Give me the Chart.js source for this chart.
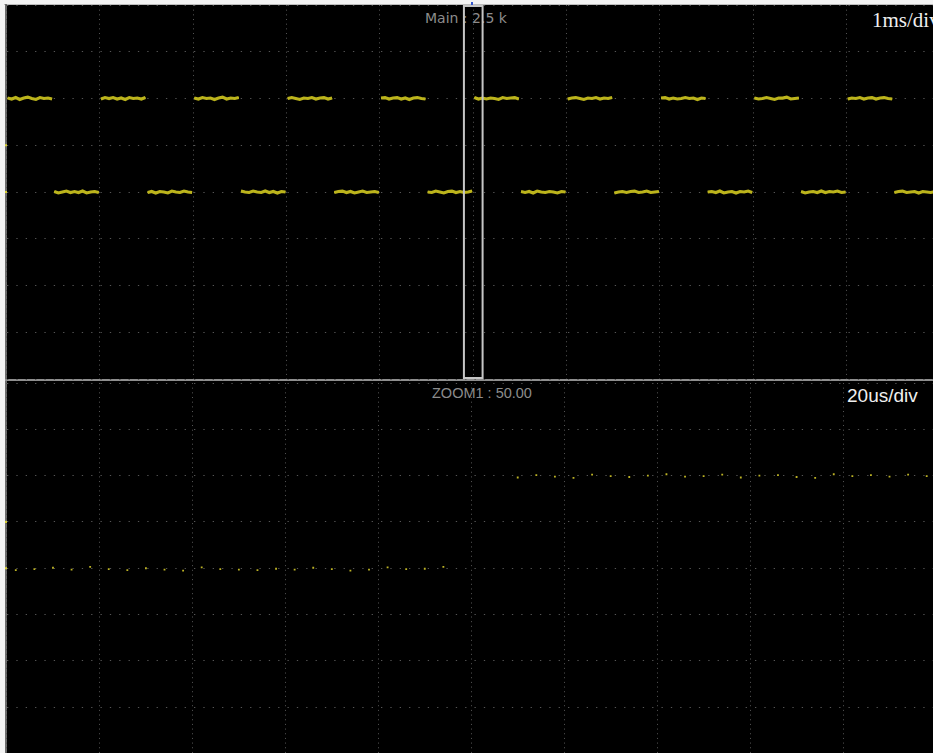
<!DOCTYPE html>
<html><head><meta charset="utf-8">
<script src="https://cdn.jsdelivr.net/npm/chart.js@4.4.0/dist/chart.umd.min.js"></script>
<style>
html,body{margin:0;padding:0;width:933px;height:753px;overflow:hidden;background:#f3f3f3;}
#bg{position:absolute;left:6px;top:5px;width:940px;height:760px;background:#000;}
.line{position:absolute;}
.lbl{position:absolute;white-space:nowrap;}
.wrap{position:absolute;left:0;width:940px;height:380px;}
</style></head>
<body>
<div id="bg"></div>
<div class="line" style="left:4px;top:4px;width:940px;height:1px;background:#bdbdbd"></div>
<div class="line" style="left:5px;top:4px;width:2px;height:760px;background:#6e6e6e"></div>
<div class="line" style="left:5px;top:379px;width:940px;height:2px;background:#8e8e8e"></div>
<div class="line" style="left:471px;top:2px;width:2px;height:3px;background:#3456cc"></div>

<div class="lbl" style="left:425px;top:11px;font:14px/14px 'DejaVu Sans';color:#8c8c8c">Main : 2.5 k</div>
<div class="lbl" style="left:432px;top:386px;font:14.5px/14.5px 'Liberation Sans';color:#8c8c8c">ZOOM1 : 50.00</div>
<div class="lbl" style="left:872px;top:10px;font:21px/21px 'Liberation Serif';color:#efefef">1ms/div</div>
<div class="lbl" style="left:847px;top:386px;font:19px/19px 'Liberation Sans';color:#efefef">20us/div</div>

<div class="wrap" style="top:0"><canvas id="mainChart"></canvas></div>
<div class="wrap" style="top:379px"><canvas id="zoomChart"></canvas></div>

<script>
// ---- Main window (1 ms/div, 10 divisions) ----
const mainEdges = [0,0.5,1,1.5,2,2.5,3,3.5,4,4.5,5,5.5,6,6.5,7,7.5,8,8.5,9,9.5,10];
const mainSegments = [
  [2.01,1.99,2.02,1.98,2.01,2.03,2.00,1.98,2.02,2.00,2.01,1.99],
  [0.01,-0.02,0.00,0.02,-0.01,0.01,-0.01,0.02,-0.02,0.00,0.01,-0.01],
  [1.99,2.02,2.00,2.02,1.99,2.01,1.98,2.02,2.00,2.01,1.99,2.02],
  [-0.01,0.01,-0.02,0.01,0.00,-0.02,0.02,0.00,-0.01,0.02,0.00,-0.01],
  [2.01,1.99,2.02,2.00,2.01,1.98,2.01,2.03,1.99,2.01,2.00,2.02],
  [0.02,0.00,-0.01,0.02,0.00,-0.01,0.02,-0.01,0.01,-0.02,0.01,0.00],
  [2.00,2.02,2.00,1.98,2.01,2.00,2.02,1.99,2.01,2.02,1.99,2.01],
  [-0.01,0.01,0.02,-0.01,0.01,-0.02,0.00,0.02,-0.01,0.00,0.01,-0.01],
  [2.01,2.02,1.99,2.01,2.02,1.99,2.01,1.98,2.01,2.02,2.00,1.99],
  [0.00,-0.01,0.02,0.00,-0.02,0.01,0.02,-0.01,0.01,-0.01,0.00,0.02],
  [2.02,1.99,2.01,1.99,2.01,2.00,1.98,2.02,2.00,2.01,2.02,1.99],
  [0.01,-0.01,0.01,-0.02,0.02,0.00,-0.01,0.01,0.00,-0.02,0.01,0.00],
  [1.99,2.01,2.02,2.00,1.98,2.01,2.00,2.02,1.99,2.01,2.00,2.02],
  [-0.02,0.00,0.01,-0.01,0.01,0.02,-0.01,0.00,0.02,-0.01,0.00,0.01],
  [2.01,2.02,1.99,2.01,1.99,2.00,2.02,2.00,2.01,1.98,2.01,2.00],
  [0.00,0.01,-0.01,0.02,-0.02,0.00,0.01,-0.02,0.01,0.00,0.02,-0.01],
  [2.01,1.99,2.00,2.02,2.00,1.98,2.01,2.01,2.03,1.99,2.00,2.01],
  [0.01,-0.02,0.00,0.01,-0.01,0.02,-0.01,0.01,0.00,0.02,-0.01,0.00],
  [1.99,2.01,2.00,2.02,1.99,2.01,2.02,1.99,2.01,2.02,2.00,1.99],
  [-0.01,0.01,0.02,-0.01,0.00,0.01,-0.02,0.01,0.00,-0.01,0.01,0.00]
];
const zoomWindow = [4.9, 5.1];       // ms, region shown in ZOOM1
const levelMarkers = [1, 0];          // div

// ---- Zoom window (20 us/div) ----
const zoomT = [-98,-94,-90,-86,-82,-78,-74,-70,-66,-62,-58,-54,-50,-46,-42,-38,-34,-30,-26,-22,-18,-14,-10,-6,
               10,14,18,22,26,30,34,38,42,46,50,54,58,62,66,70,74,78,82,86,90,94,98];
const zoomV = [-0.04,-0.02,0.01,-0.03,0.03,-0.02,-0.04,0.00,-0.03,-0.05,0.02,-0.02,-0.03,-0.04,-0.01,-0.03,0.01,-0.02,-0.05,-0.03,0.02,-0.02,-0.01,0.03,
               1.96,2.01,1.98,1.95,2.02,1.99,1.97,2.00,2.03,1.98,1.99,2.02,1.96,2.00,2.01,1.97,1.95,2.03,1.99,2.01,1.98,2.02,1.99];

function buildMain(){
  const pts = [];
  mainSegments.forEach((vals, i) => {
    const t0 = mainEdges[i] + 0.012, t1 = mainEdges[i+1] - 0.012;
    vals.forEach((v, k) => pts.push({x: t0 + (t1 - t0) * k / (vals.length - 1), y: v}));
    pts.push({x: mainEdges[i+1], y: null});
  });
  return pts;
}

function scalesFor(xmin, xmax, step){
  return {
    x: {type:'linear', min:xmin, max:xmax,
        ticks:{display:false, stepSize:step},
        grid:{color:'#565656', lineWidth:1, drawTicks:false},
        border:{display:false, dash:[1,3.67]}},
    y: {type:'linear', min:-4, max:4,
        ticks:{display:false, stepSize:1},
        grid:{color:'#565656', lineWidth:1, drawTicks:false},
        border:{display:false, dash:[1.3,8.05]}}
  };
}

const scopePlugin = {
  id: 'scope',
  afterDatasetsDraw(chart, args, opts){
    const {ctx, chartArea:a, scales:{x, y}} = chart;
    ctx.save();
    ctx.fillStyle = '#d8d030';
    levelMarkers.forEach(v => { const py = y.getPixelForValue(v); ctx.fillRect(a.left - 1.5, py - 1, 2, 2); });
    if (opts.box) {
      const l = x.getPixelForValue(zoomWindow[0]), r = x.getPixelForValue(zoomWindow[1]);
      ctx.strokeStyle = '#c6c6c6'; ctx.lineWidth = 2;
      ctx.strokeRect(l, a.top + 1, r - l, a.bottom - a.top - 2);
    }
    ctx.restore();
  }
};

const mainData = buildMain();
new Chart(document.getElementById('mainChart'), {
  type: 'scatter',
  data: {datasets: [
    {data: mainData, showLine:true, spanGaps:false, borderColor:'#bcb41c', borderWidth:3.2, pointRadius:0},
    {data: mainData, showLine:true, spanGaps:false, borderColor:'#f6f042', borderWidth:1.4, pointRadius:0}
  ]},
  options: {
    responsive:true, maintainAspectRatio:false, animation:false,
    layout:{padding:{left:6.5, top:5, right:0, bottom:1}},
    plugins:{legend:{display:false}, tooltip:{enabled:false}, scope:{box:true}},
    scales: scalesFor(0, 10, 1)
  },
  plugins:[scopePlugin]
});

new Chart(document.getElementById('zoomChart'), {
  type: 'scatter',
  data: {datasets: [
    {data: zoomT.map((t, i) => ({x: t, y: zoomV[i]})), pointStyle:'rect', pointRadius:1.3,
     backgroundColor:'#bcb224', borderWidth:0}
  ]},
  options: {
    responsive:true, maintainAspectRatio:false, animation:false,
    layout:{padding:{left:6.5, top:0.5, right:0, bottom:5.5}},
    plugins:{legend:{display:false}, tooltip:{enabled:false}, scope:{box:false}},
    scales: scalesFor(-100, 100, 20)
  },
  plugins:[scopePlugin]
});
</script>
</body></html>
